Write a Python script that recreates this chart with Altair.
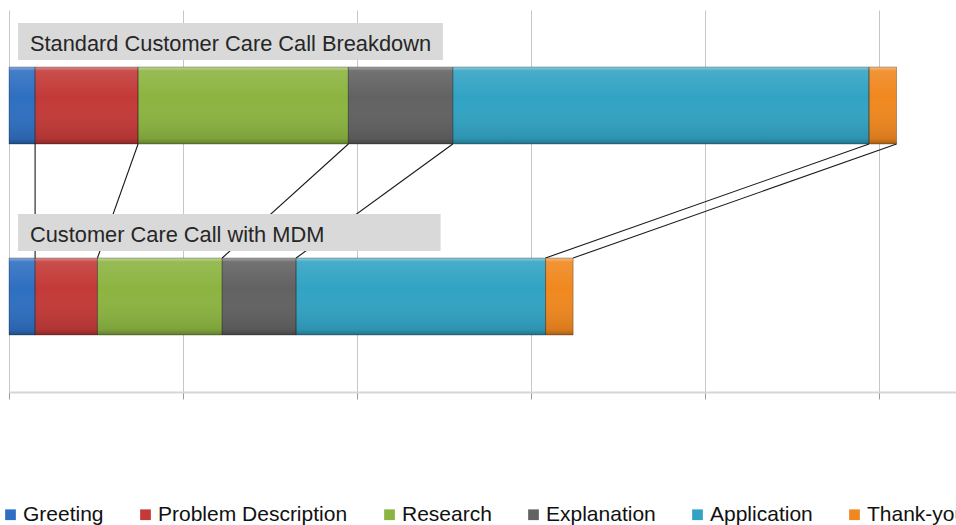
import altair as alt
import pandas as pd

# Call phases, in the order they happen during a call
phases = ["Greeting", "Problem Description", "Research", "Explanation", "Application", "Thank-you"]
phase_colors = ["#2f6fc1", "#c33a38", "#8cb441", "#626262", "#32a3c4", "#f0881f"]

calls = ["Standard Customer Care Call Breakdown", "Customer Care Call with MDM"]

# Duration of each phase (seconds)
standard_secs = [9, 35.5, 72.5, 36, 143.5, 9.5]
mdm_secs = [9, 21.5, 43, 25.5, 86, 9.5]

grid_secs = [0, 60, 120, 180, 240, 300]
x_max = 326.5

# Stacked segments, one row per call and phase
rows = []
for call, secs in zip(calls, [standard_secs, mdm_secs]):
    t = 0.0
    for i, (ph, s) in enumerate(zip(phases, secs)):
        rows.append({"call": call, "phase": ph, "order": i, "start": t, "end": t + s})
        t += s
seg = pd.DataFrame(rows)

# Connectors joining the end of each phase in the two calls
std_end = seg[seg.call == calls[0]].end.tolist()
mdm_end = seg[seg.call == calls[1]].end.tolist()
links = pd.DataFrame({"x_top": std_end, "x_bot": mdm_end,
                      "from_call": calls[0], "to_call": calls[1]})

# Caption boxes above each bar
captions = pd.DataFrame({"call": calls, "box_start": [3.1, 3.1], "box_end": [149.6, 148.8]})

FONT = "Liberation Sans"
BAR = 77

x_scale = alt.Scale(domain=[0, x_max], nice=False, zero=False)
y_scale = alt.Scale(domain=calls, paddingInner=0, paddingOuter=0)

x_axis = alt.Axis(values=grid_secs, labels=False, title=None, grid=True,
                  gridColor="#c6c6c6", gridWidth=1, domainColor="#d6d6d6",
                  domainWidth=2, tickColor="#9c9c9c", tickSize=7, tickWidth=1)

connectors = alt.Chart(links).mark_rule(
    color="#1a1a1a", strokeWidth=1.1, yOffset=BAR / 2, y2Offset=-BAR / 2
).encode(
    x=alt.X("x_top:Q", scale=x_scale, axis=x_axis),
    x2="x_bot:Q",
    y=alt.Y("from_call:N", scale=y_scale, axis=None, bandPosition=0.5),
    y2=alt.Y2("to_call:N", bandPosition=0.5),
)

bars = alt.Chart(seg).mark_bar(size=BAR).encode(
    x=alt.X("start:Q", scale=x_scale, axis=x_axis),
    x2="end:Q",
    y=alt.Y("call:N", scale=y_scale, axis=None),
    color=alt.Color(
        "phase:N",
        scale=alt.Scale(domain=phases, range=phase_colors),
        legend=alt.Legend(
            orient="none", direction="horizontal", legendX=-9, legendY=494,
            title=None, labelFont=FONT, labelFontSize=21, labelColor="#111111",
            symbolType="square", symbolSize=115, symbolStrokeWidth=0,
            labelOffset=2, columnPadding=31, padding=0, labelLimit=0,
        ),
    ),
    order="order:Q",
)

# Bevel shading drawn over the flat fills
shade = alt.Gradient(
    gradient="linear", x1=0, x2=0, y1=0, y2=1,
    stops=[
        alt.GradientStop(color="rgba(255,255,255,0.45)", offset=0),
        alt.GradientStop(color="rgba(255,255,255,0.10)", offset=0.05),
        alt.GradientStop(color="rgba(255,255,255,0.0)", offset=0.4),
        alt.GradientStop(color="rgba(0,0,0,0.10)", offset=0.93),
        alt.GradientStop(color="rgba(0,0,0,0.30)", offset=1),
    ],
)
bevel = alt.Chart(seg).mark_bar(
    size=BAR, fill=shade, stroke="rgba(0,0,0,0.28)", strokeWidth=1
).encode(
    x=alt.X("start:Q", scale=x_scale, axis=x_axis),
    x2="end:Q",
    y=alt.Y("call:N", scale=y_scale, axis=None),
)

boxes = alt.Chart(captions).mark_bar(size=37, yOffset=-64, color="#d9d9d9").encode(
    x=alt.X("box_start:Q", scale=x_scale, axis=x_axis),
    x2="box_end:Q",
    y=alt.Y("call:N", scale=y_scale, axis=None),
)

texts = alt.Chart(captions).mark_text(
    align="left", baseline="alphabetic", dx=12, yOffset=-55,
    font=FONT, fontSize=21.8, color="#262626",
).encode(
    x=alt.X("box_start:Q", scale=x_scale, axis=x_axis),
    y=alt.Y("call:N", scale=y_scale, axis=None),
    text="call:N",
)

chart = alt.layer(connectors, bars, bevel, boxes, texts).properties(
    width=947, height=382,
    autosize=alt.AutoSizeParams(type="none"),
    padding={"left": 9, "top": 10, "right": 0, "bottom": 133},
    background="white",
).configure_view(strokeWidth=0)

chart.save("out.html", embed_options={"renderer": "svg", "actions": False})
